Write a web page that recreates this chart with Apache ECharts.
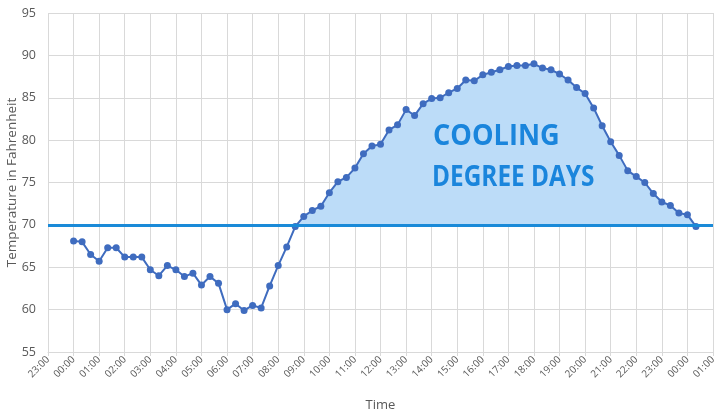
<!DOCTYPE html>
<html>
<head>
<meta charset="utf-8">
<script src="https://cdn.jsdelivr.net/npm/echarts@6/dist/echarts.min.js"></script>
<style>
  html, body { margin: 0; padding: 0; background: #fff; }
  #chart { width: 720px; height: 415px; }
</style>
</head>
<body>
<div id="chart"></div>
<script>
// readings every 20 minutes, starting 00:00
const startHour = 0;
const stepHours = 1 / 3;
const temps = [
  68.1, 68.0, 66.5, 65.7, 67.3, 67.3, 66.2, 66.2, 66.2, 64.7, 64.0, 65.2,
  64.7, 63.9, 64.3, 62.9, 63.9, 63.1, 60.0, 60.7, 59.9, 60.5, 60.2, 62.8,
  65.2, 67.4, 69.8, 71.0, 71.7, 72.2, 73.8, 75.1, 75.6, 76.7, 78.4, 79.3,
  79.5, 81.2, 81.8, 83.6, 82.9, 84.3, 84.9, 85.0, 85.6, 86.1, 87.1, 87.0,
  87.7, 88.0, 88.3, 88.7, 88.8, 88.8, 89.0, 88.5, 88.3, 87.8, 87.1, 86.2,
  85.5, 83.8, 81.7, 79.8, 78.2, 76.4, 75.7, 75.0, 73.7, 72.7, 72.3, 71.4,
  71.2, 69.8
];
const baseTemp = 70;
const yTicks = { min: 55, max: 95, step: 5 };
const xTicks = { min: -1, max: 25, step: 1 };

const times = temps.map((t, i) => startHour + i * stepHours);
const lineData = temps.map((t, i) => [times[i], t]);
const coolData = lineData.filter(p => p[1] >= baseTemp - 0.5);

const labelColor = '#595959';
const gridColor = '#d9d9d9';
const noteColor = '#1a85dc';

function hourLabel(v) {
  const h = ((Math.round(v) % 24) + 24) % 24;
  return (h < 10 ? '0' : '') + h + ':00';
}

const chart = echarts.init(document.getElementById('chart'));
const option = {
  animation: false,
  textStyle: { fontFamily: 'Open Sans' },
  grid: { left: 48, right: 7, top: 13, bottom: 63, outerBoundsMode: 'none' },
  xAxis: {
    type: 'value',
    min: xTicks.min,
    max: xTicks.max,
    interval: xTicks.step,
    name: 'Time',
    nameLocation: 'middle',
    nameGap: 47,
    nameMoveOverlap: false,
    nameTextStyle: { color: labelColor, fontSize: 13 },
    axisLine: { show: true, lineStyle: { color: gridColor } },
    axisTick: { show: true, length: 4, lineStyle: { color: gridColor } },
    axisLabel: {
      color: labelColor,
      fontSize: 10,
      rotate: 45,
      margin: 6,
      formatter: hourLabel
    },
    splitLine: { show: true, lineStyle: { color: gridColor } }
  },
  yAxis: {
    type: 'value',
    min: yTicks.min,
    max: yTicks.max,
    interval: yTicks.step,
    name: 'Temperature in Fahrenheit',
    nameLocation: 'middle',
    nameGap: 29,
    nameMoveOverlap: false,
    nameTextStyle: { color: labelColor, fontSize: 13.5 },
    axisLine: { show: false },
    axisTick: { show: false },
    axisLabel: { color: labelColor, fontSize: 12.5, margin: 12 },
    splitLine: { show: true, lineStyle: { color: gridColor } }
  },
  graphic: [
    {
      type: 'text',
      x: 433,
      y: 137,
      scaleX: 0.97,
      z: 10,
      style: {
        text: 'COOLING',
        align: 'left',
        verticalAlign: 'middle',
        fill: noteColor,
        font: 'bold 28px "Open Sans"'
      }
    },
    {
      type: 'text',
      x: 432,
      y: 178,
      scaleX: 0.87,
      z: 10,
      style: {
        text: 'DEGREE DAYS',
        align: 'left',
        verticalAlign: 'middle',
        fill: noteColor,
        font: 'bold 28px "Open Sans"'
      }
    }
  ],
  series: [
    {
      name: 'cooling',
      type: 'line',
      data: coolData,
      showSymbol: false,
      lineStyle: { width: 0 },
      areaStyle: { color: '#bcdcf8', opacity: 1, origin: baseTemp },
      z: 1,
      markLine: {
        silent: true,
        symbol: 'none',
        label: { show: false },
        lineStyle: { color: '#1a8ad8', width: 3, type: 'solid' },
        data: [{ yAxis: baseTemp }]
      }
    },
    {
      name: 'Temperature',
      type: 'line',
      data: lineData,
      symbol: 'circle',
      symbolSize: 7,
      lineStyle: { color: '#3f6cbf', width: 2 },
      itemStyle: { color: '#3f6cbf' },
      z: 3
    }
  ]
};
chart.setOption(option);
</script>
</body>
</html>
